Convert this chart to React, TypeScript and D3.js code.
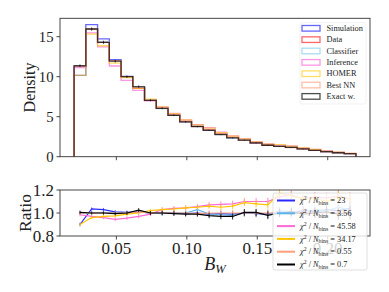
import React from 'react';
import * as d3 from 'd3';

// bins: 24 equal bins on [0.02, 0.22]
const binStart = 0.02;
const binEnd = 0.22;
const nBins = 24;

// density of the "Data" histogram
const dataDensity = [
  11.3, 15.96, 14.3, 12.0, 10.0, 8.55, 7.05, 6.05, 5.2, 4.4, 3.8, 3.38,
  2.85, 2.42, 2.05, 1.72, 1.46, 1.28, 1.16, 0.98, 0.8, 0.63, 0.5, 0.38,
];

// ratios to Data
const simRatio = [
  0.9, 1.035, 1.03, 1.01, 1.005, 1.01, 1.0, 1.0, 1.0, 0.995, 1.0, 0.99,
  0.995, 0.99, 1.0, 0.995, 0.99, 1.01, 1.0, 1.02, 1.01, 1.03, 1.02, 1.04,
];
const classifierRatio = [
  1.0, 1.0, 1.005, 1.0, 1.0, 1.01, 1.0, 0.995, 1.0, 1.0, 1.03, 0.99,
  0.985, 0.98, 1.0, 1.0, 0.985, 1.02, 1.01, 1.0, 1.03, 1.02, 1.05, 1.03,
];
const inferenceRatio = [
  0.985, 0.97, 0.96, 0.945, 0.955, 0.97, 0.99, 1.03, 1.04, 1.045, 1.055, 1.07,
  1.075, 1.08, 1.1, 1.1, 1.1, 1.14, 1.16, 1.12, 1.14, 1.13, 1.15, 1.12,
];
const homerRatio = [
  0.9, 0.96, 0.97, 0.975, 0.99, 1.0, 1.02, 1.03, 1.035, 1.045, 1.05, 1.06,
  1.05, 1.06, 1.09, 1.08, 1.07, 1.17, 1.15, 1.12, 1.13, 1.1, 1.14, 1.12,
];
const bestNNRatio = [
  1.0, 1.0, 1.0, 1.0, 1.0, 1.01, 1.0, 1.0, 1.0, 1.0, 0.995, 1.0,
  1.0, 1.0, 1.0, 1.0, 1.0, 1.0, 0.99, 1.01, 1.0, 1.0, 1.01, 1.0,
];
const exactRatio = [
  1.006, 1.0, 1.0, 0.995, 1.0, 1.025, 1.0, 1.0, 0.995, 0.99, 0.99, 0.977,
  0.97, 0.97, 1.005, 1.005, 0.98, 1.0, 1.01, 0.99, 1.0, 1.01, 0.99, 1.0,
];
const dataRatio = dataDensity.map(() => 1);

// relative statistical uncertainty per bin
const relErr = [
  0.015, 0.013, 0.014, 0.015, 0.016, 0.017, 0.018, 0.019, 0.02, 0.021, 0.022, 0.023,
  0.025, 0.027, 0.029, 0.031, 0.033, 0.035, 0.037, 0.04, 0.043, 0.047, 0.052, 0.058,
];

const histNames = ['Simulation', 'Data', 'Classifier', 'Inference', 'HOMER', 'Best NN', 'Exact w.'];
const histColors = ['#0000ff', '#ff0000', '#87ceeb', '#ff69d8', '#ffc800', '#ff8a60', '#000000'];
const histAlpha = [0.6, 0.6, 0.7, 0.7, 0.6, 0.55, 0.7];
const histRatios = [simRatio, dataRatio, classifierRatio, inferenceRatio, homerRatio, bestNNRatio, exactRatio];

const ratioNames = ['Simulation', 'Classifier', 'Inference', 'HOMER', 'Best NN', 'Exact w.'];
const ratioChi2 = ['23', '3.56', '45.58', '34.17', '0.55', '0.7'];
const ratioColors = ['#2a2aff', '#5ab4ee', '#ff6ad5', '#ffc400', '#ff9f7a', '#000000'];
const ratioSeries = [simRatio, classifierRatio, inferenceRatio, homerRatio, bestNNRatio, exactRatio];

const densityTicks = [0, 5, 10, 15];
const ratioTicks = [0.8, 1.0, 1.2];
const xTicks = [0.05, 0.1, 0.15, 0.2];

const font = '"Liberation Serif", "DejaVu Serif", serif';

export default function App() {
  const left = 60;
  const right = 370;
  const topY0 = 18.3;
  const topY1 = 156.7;
  const botY0 = 190;
  const botY1 = 236;

  const binW = (binEnd - binStart) / nBins;
  const edges = d3.range(nBins + 1).map((i) => binStart + i * binW);
  const centers = d3.range(nBins).map((i) => binStart + (i + 0.5) * binW);

  const x = d3.scaleLinear().domain([0.01, 0.23]).range([left, right]);
  const y = d3.scaleLinear().domain([0, 17.3]).range([topY1, topY0]);
  const yr = d3.scaleLinear().domain([0.8, 1.2]).range([botY1, botY0]);

  const stepPath = (vals: number[]) => {
    let p = `M${x(edges[0])},${y(0)}`;
    vals.forEach((v, i) => {
      p += `L${x(edges[i])},${y(v)}L${x(edges[i + 1])},${y(v)}`;
    });
    p += `L${x(edges[nBins])},${y(0)}`;
    return p;
  };

  const line = d3
    .line<number>()
    .x((_, i) => x(centers[i]))
    .y((d) => yr(d));

  const exactVals = dataDensity.map((d, i) => d * exactRatio[i]);

  return (
    <svg width={389} height={292} style={{ position: 'absolute', left: 0, top: 0 }} fontFamily={font}>
      <rect width={389} height={292} fill="#fff" />

      {/* top panel */}
      <g>
        {histRatios.map((r, s) => (
          <path
            key={s}
            d={stepPath(dataDensity.map((d, i) => d * r[i]))}
            fill="none"
            stroke={histColors[s]}
            strokeOpacity={histAlpha[s]}
            strokeWidth={1.3}
          />
        ))}
        {exactVals.map((v, i) => (
          <line
            key={i}
            x1={x(centers[i])}
            x2={x(centers[i])}
            y1={y(v * (1 - relErr[i]))}
            y2={y(v * (1 + relErr[i]))}
            stroke="#000"
            strokeOpacity={0.7}
            strokeWidth={1}
          />
        ))}
        <rect x={left} y={topY0} width={right - left} height={topY1 - topY0} fill="none" stroke="#333" strokeWidth={0.9} />
        {densityTicks.map((t) => (
          <g key={t}>
            <line x1={left - 3.5} x2={left} y1={y(t)} y2={y(t)} stroke="#333" strokeWidth={0.9} />
            <text x={left - 6.5} y={y(t)} dy="0.34em" textAnchor="end" fontSize={14.7} fill="#222">
              {t}
            </text>
          </g>
        ))}
        {xTicks.map((t) => (
          <line key={t} x1={x(t)} x2={x(t)} y1={topY1} y2={topY1 + 3.5} stroke="#333" strokeWidth={0.9} />
        ))}
        <text
          transform={`translate(29,${(topY0 + topY1) / 2}) rotate(-90)`}
          textAnchor="middle"
          dy="0.35em"
          fontSize={16}
          fill="#222"
        >
          Density
        </text>
        {/* legend */}
        <rect x={300} y={22.7} width={66} height={81.3} rx={2} fill="#fff" fillOpacity={0.8} stroke="#eee" strokeWidth={0.8} />
        {histNames.map((n, s) => {
          const cy = 28.3 + s * 11.35;
          return (
            <g key={n}>
              <rect
                x={302}
                y={cy - 2.8}
                width={18}
                height={5.6}
                fill="none"
                stroke={histColors[s]}
                strokeOpacity={histAlpha[s]}
                strokeWidth={1.3}
              />
              <text x={326.5} y={cy} dy="0.33em" fontSize={8.3} fill="#222">
                {n}
              </text>
            </g>
          );
        })}
      </g>

      {/* ratio panel */}
      <g>
        {ratioSeries.map((r, s) => (
          <g key={s}>
            <path d={line(r) ?? ''} fill="none" stroke={ratioColors[s]} strokeWidth={1.2} />
            {r.map((v, i) => (
              <line
                key={i}
                x1={x(centers[i])}
                x2={x(centers[i])}
                y1={yr(v - relErr[i])}
                y2={yr(v + relErr[i])}
                stroke={ratioColors[s]}
                strokeWidth={0.8}
              />
            ))}
          </g>
        ))}
        <rect x={left} y={botY0} width={right - left} height={botY1 - botY0} fill="none" stroke="#333" strokeWidth={0.9} />
        {ratioTicks.map((t) => (
          <g key={t}>
            <line x1={left - 3.5} x2={left} y1={yr(t)} y2={yr(t)} stroke="#333" strokeWidth={0.9} />
            <text x={left - 6} y={yr(t)} dy="0.34em" textAnchor="end" fontSize={17} fill="#222">
              {d3.format('.1f')(t)}
            </text>
          </g>
        ))}
        {xTicks.map((t) => (
          <g key={t}>
            <line x1={x(t)} x2={x(t)} y1={botY1} y2={botY1 + 3.5} stroke="#333" strokeWidth={0.9} />
            <text x={x(t)} y={254} textAnchor="middle" fontSize={17} fill="#222">
              {d3.format('.2f')(t)}
            </text>
          </g>
        ))}
        <text
          transform={`translate(25,${(botY0 + botY1) / 2}) rotate(-90)`}
          textAnchor="middle"
          dy="0.35em"
          fontSize={17.5}
          fill="#222"
        >
          Ratio
        </text>
        <text x={215} y={270} textAnchor="middle" fontSize={18} fill="#222" fontStyle="italic">
          B
          <tspan fontSize={12.5} dy={3}>
            W
          </tspan>
        </text>
        {/* legend */}
        <rect x={273} y={193} width={94} height={77} rx={2} fill="#fff" fillOpacity={0.8} stroke="#ccc" strokeOpacity={0.8} strokeWidth={0.8} />
        {ratioNames.map((n, s) => {
          const cy = 200.5 + s * 12.8;
          return (
            <g key={n}>
              <line x1={277} x2={295} y1={cy} y2={cy} stroke={ratioColors[s]} strokeWidth={2} />
              <text x={300} y={cy} dy="0.33em" fontSize={8.3} fill="#222">
                <tspan fontStyle="italic">χ</tspan>
                <tspan fontSize={5.8} dy={-3}>
                  2
                </tspan>
                <tspan dy={3}> / </tspan>
                <tspan fontStyle="italic">N</tspan>
                <tspan fontSize={5.8} dy={1.8}>
                  bins
                </tspan>
                <tspan dy={-1.8}> = {ratioChi2[s]}</tspan>
              </text>
            </g>
          );
        })}
      </g>
    </svg>
  );
}
